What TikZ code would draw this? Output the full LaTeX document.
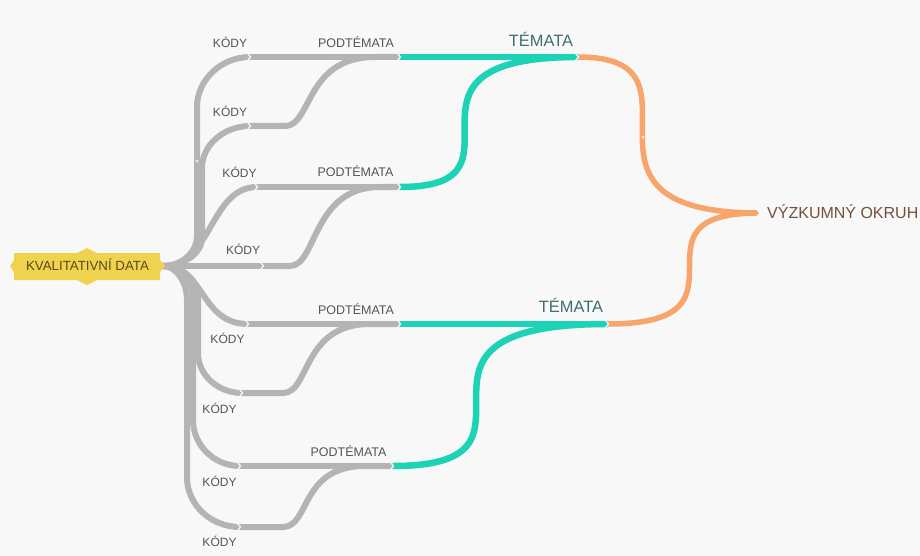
\documentclass[tikz,border=0pt]{standalone}
\usepackage{fontspec}
\setmainfont{Liberation Sans}
\usetikzlibrary{calc}
\definecolor{bgc}{HTML}{F8F8F8}
\definecolor{edgegray}{HTML}{B4B4B4}
\definecolor{tealc}{HTML}{1CD3B6}
\definecolor{orangec}{HTML}{F8A56B}
\definecolor{rootfill}{HTML}{EFD24E}
\definecolor{roottext}{HTML}{5B4A1E}
\definecolor{labelgray}{HTML}{555555}
\definecolor{themetext}{HTML}{3C6F70}
\definecolor{goaltext}{HTML}{75513C}
\begin{document}
\begin{tikzpicture}[x=1pt,y=-1pt,
  graybr/.style={draw=edgegray,line width=6pt},
  tealbr/.style={draw=tealc,line width=6.5pt},
  orangebr/.style={draw=orangec,line width=5.5pt},
  notch/.style={draw=bgc,line width=1.3pt},
  codelbl/.style={font=\fontsize{12}{12}\selectfont,text=labelgray,inner sep=0pt,anchor=base},
  sublbl/.style={font=\fontsize{12.5}{12.5}\selectfont,text=labelgray,inner sep=0pt,anchor=base},
  themelbl/.style={font=\fontsize{16.4}{16.4}\selectfont,text=themetext,inner sep=0pt,anchor=base},
  goallbl/.style={font=\fontsize{16}{16}\selectfont,text=goaltext,inner sep=0pt,anchor=base west},
  rootlbl/.style={font=\fontsize{13.3}{13.3}\selectfont,text=roottext,inner sep=0pt,anchor=base},
  dotmark/.style={fill=white,opacity=0.7}
]
\fill[bgc] (0,0) rectangle (920,556);
\useasboundingbox (0,0) rectangle (920,556);

% anchor points
\coordinate (r) at (163,266);
\coordinate (k1) at (250,57);
\coordinate (k2) at (250,126);
\coordinate (k3) at (257,187);
\coordinate (k4) at (263,266);
\coordinate (k5) at (248,324);
\coordinate (k6) at (242,393);
\coordinate (k7) at (240,466);
\coordinate (k8) at (240,527);
\coordinate (p1) at (400,57);
\coordinate (p2) at (400,187);
\coordinate (p3) at (400,324);
\coordinate (p4) at (393,466);
\coordinate (t1) at (578,57);
\coordinate (t2) at (608,324);
\coordinate (v) at (759,213);

% root -> codes
\draw[graybr] (r) .. controls (182,266) and (197,252) .. (197,236) -- (197,107)
  .. controls (197,80) and (221,57) .. (k1);
\draw[graybr] (r) .. controls (184,266) and (202,253) .. (202,238) -- (202,168)
  .. controls (202,145) and (224,126) .. (k2);
\draw[graybr] (r) .. controls (212,266) and (210,187) .. (k3);
\draw[graybr] (r) -- (k4);
\draw[graybr] (r) .. controls (205,266) and (200,324) .. (k5);
\draw[graybr] (r) .. controls (182,266) and (198,280) .. (198,296) -- (198,353)
  .. controls (198,375) and (218,393) .. (k6);
\draw[graybr] (r) .. controls (180,266) and (193,281) .. (193,298) -- (193,420)
  .. controls (193,445) and (214,466) .. (k7);
\draw[graybr] (r) .. controls (176,266) and (187,282) .. (187,300) -- (187,477)
  .. controls (187,505) and (211,527) .. (k8);

% codes -> subtopics
\draw[graybr] (k1) -- (p1);
\draw[graybr] (k2) -- (285,126) .. controls (312,126) and (305,57) .. (375,57) -- (p1);
\draw[graybr] (k3) -- (p2);
\draw[graybr] (k4) -- (290,266) .. controls (317,266) and (312,187) .. (380,187) -- (p2);
\draw[graybr] (k5) -- (p3);
\draw[graybr] (k6) -- (283,393) .. controls (310,393) and (302,324) .. (370,324) -- (p3);
\draw[graybr] (k7) -- (p4);
\draw[graybr] (k8) -- (283,527) .. controls (310,527) and (300,466) .. (365,466) -- (p4);

% subtopics -> themes
\draw[tealbr] (p1) -- (t1);
\draw[tealbr] (p2) .. controls (544,187) and (369,57) .. (t1);
\draw[tealbr] (p3) -- (t2);
\draw[tealbr] (p4) .. controls (574,466) and (362,324) .. (t2);

% themes -> research question
\draw[orangebr] (t1) .. controls (723,57) and (544,213) .. (v);
\draw[orangebr] (t2) .. controls (766,324) and (617,213) .. (v);

% segment notches
\foreach \j in {k1,k2,k3,k4,k5,k6,k7,k8,p1,p2,p3,p4,t1,t2}
  \draw[notch] ($(\j)+(-3.5,-5)$) -- ($(\j)+(0.5,0)$) -- ($(\j)+(-3.5,5)$);
\fill[bgc] ($(v)+(-4.5,-6)$) -- (v) -- ($(v)+(-4.5,6)$) -- ($(v)+(5,6)$) -- ($(v)+(5,-6)$) -- cycle;

% collapse dots
\fill[dotmark] (197,161) circle (1.6);
\fill[dotmark] (643,137) circle (1.6);

% root node
\fill[rootfill] (14,253) -- (77,253) -- (87,248) -- (97,253) -- (160,253) -- (160,260) -- (165,266)
  -- (160,272) -- (160,280) -- (97,280) -- (87,285) -- (77,280) -- (14,280) -- (14,272) -- (10,266)
  -- (14,260) -- cycle;
\node[rootlbl] (root) at (87.5,270) {KVALITATIVNÍ DATA};

% code labels
\node[codelbl] (c1) at (230,48) {KÓDY};
\node[codelbl] (c2) at (230,116.5) {KÓDY};
\node[codelbl] (c3) at (239.5,177.5) {KÓDY};
\node[codelbl] (c4) at (243,254.5) {KÓDY};
\node[codelbl] (c5) at (227.5,343) {KÓDY};
\node[codelbl] (c6) at (219.5,413) {KÓDY};
\node[codelbl] (c7) at (219.5,486) {KÓDY};
\node[codelbl] (c8) at (219.5,546) {KÓDY};

% subtopic labels
\node[sublbl] (s1) at (356,48) {PODTÉMATA};
\node[sublbl] (s2) at (355.5,177) {PODTÉMATA};
\node[sublbl] (s3) at (356,314) {PODTÉMATA};
\node[sublbl] (s4) at (348.5,456.5) {PODTÉMATA};

% theme labels
\node[themelbl] (th1) at (541,46.7) {TÉMATA};
\node[themelbl] (th2) at (571,312.7) {TÉMATA};

% research question
\node[goallbl] (goal) at (767,218.3) {VÝZKUMNÝ OKRUH};
\end{tikzpicture}
\end{document}
